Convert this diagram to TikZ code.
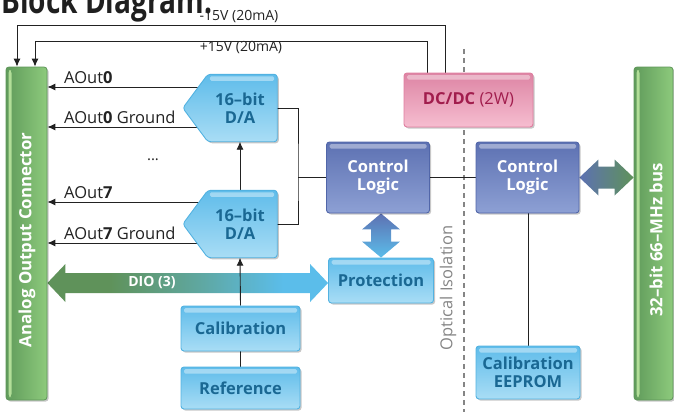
\documentclass[tikz,border=0pt]{standalone}
\usepackage{graphicx}
\usepackage{fontspec}
\setmainfont{Open Sans}
\usetikzlibrary{arrows.meta,calc,backgrounds,shadows}
\definecolor{lbTop}{HTML}{5FBCEA}
\definecolor{lbBot}{HTML}{A9DDF5}
\definecolor{lbBorder}{HTML}{52B2E1}
\definecolor{lbText}{HTML}{1A6893}
\definecolor{blTop}{HTML}{5D71B2}
\definecolor{blBot}{HTML}{8DA0D4}
\definecolor{blBorder}{HTML}{5166A9}
\definecolor{pkTop}{HTML}{DD85A4}
\definecolor{pkBot}{HTML}{F6BDD0}
\definecolor{pkBorder}{HTML}{E07EA0}
\definecolor{pkText}{HTML}{A11D4D}
\definecolor{grDark}{HTML}{609B5B}
\definecolor{grLight}{HTML}{8DCA7C}
\definecolor{grBorder}{HTML}{5E9659}
\definecolor{grHL}{HTML}{B2DE98}
\definecolor{dioGreen}{HTML}{5F925A}
\definecolor{dioMid}{HTML}{5FA7A0}
\definecolor{arBlue}{HTML}{5BBDEA}
\definecolor{lineCol}{HTML}{222222}
\definecolor{isoGray}{HTML}{858585}
\pgfdeclarehorizontalshading{dioshade}{100bp}{color(0bp)=(dioGreen); color(36bp)=(dioGreen); color(52bp)=(dioMid); color(67bp)=(arBlue); color(100bp)=(arBlue)}
\newcommand\HFat[6]{\path[#6] (#1) -- ++(#3,-#4) -- ++(0,#4-#5) -- ($(#2)+(-#3,-#5)$) -- ++(0,#5-#4) -- (#2) -- ++(-#3,#4) -- ++(0,#5-#4) -- ($(#1)+(#3,#5)$) -- ++(0,#4-#5) -- cycle;}
\newcommand\VFat[6]{\path[#6] (#1) -- ++(#4,#3) -- ++(#5-#4,0) -- ($(#2)+(#5,-#3)$) -- ++(#4-#5,0) -- (#2) -- ++(-#4,-#3) -- ++(#4-#5,0) -- ($(#1)+(-#5,#3)$) -- ++(#5-#4,0) -- cycle;}
\newcommand\DApent[1]{%
  \fill[black,opacity=0.22,rounded corners=3pt,transform canvas={xshift=1.6pt,yshift=-1.6pt}] ($(#1.west)+(-20,0)$) -- ($(#1.north west)+(5,0)$) -- (#1.north east) -- (#1.south east) -- ($(#1.south west)+(5,0)$) -- cycle;
  \path[draw=lbBorder,line width=0.9pt,top color=lbTop,bottom color=lbBot,rounded corners=3pt] ($(#1.west)+(-20,0)$) -- ($(#1.north west)+(5,0)$) -- (#1.north east) -- (#1.south east) -- ($(#1.south west)+(5,0)$) -- cycle;
  \fill[white,opacity=0.4,rounded corners=1.5pt] ($(#1.north west)+(7,2)$) rectangle ($(#1.north east)+(-3,6.5)$);}
\begin{document}
\begin{tikzpicture}[x=1pt,y=-1pt,
  arr/.style={draw=lineCol, line width=0.9pt, -{Latex[length=8pt,width=7pt]}},
  ln/.style={draw=lineCol, line width=0.9pt},
  shd/.style={drop shadow={shadow xshift=1.6pt, shadow yshift=-1.6pt, fill=black, opacity=0.22}},
  hl/.style={path picture={\fill[white,opacity=0.4,rounded corners=1.5pt] ($(path picture bounding box.north west)+(3,2)$) rectangle ($(path picture bounding box.north east)+(-3,6.5)$);}},
  boxtext/.style={font=\bfseries\fontsize{16.5}{18}\selectfont, align=center, inner sep=0pt},
  lbox/.style={rectangle, rounded corners=3pt, draw=lbBorder, line width=0.9pt, top color=lbTop, bottom color=lbBot, text=lbText, boxtext, shd, hl},
  bbox/.style={rectangle, rounded corners=3pt, draw=blBorder, line width=0.9pt, top color=blTop, bottom color=blBot, text=white, boxtext, shd, hl},
  pbox/.style={rectangle, rounded corners=3pt, draw=pkBorder, line width=0.9pt, top color=pkTop, bottom color=pkBot, text=pkText, boxtext, shd, hl},
  datext/.style={boxtext, text=lbText, minimum width=74pt, minimum height=67pt},
  gbar/.style={rectangle, rounded corners=3pt, draw=grBorder, line width=0.8pt, left color=grDark, right color=grLight, shd,
    path picture={\fill[grHL] ($(path picture bounding box.north west)+(2.5,3)$) rectangle ($(path picture bounding box.south west)+(5.5,-3)$);}},
  bartext/.style={rotate=90, text=white, font=\bfseries\fontsize{16.8}{16}\selectfont, inner sep=0pt},
  lbl/.style={font=\fontsize{16.5}{17}\selectfont, text=lineCol, inner sep=0pt, anchor=base west},
  small/.style={font=\fontsize{14}{15}\selectfont, text=lineCol, inner sep=0pt}
]
\useasboundingbox (0,0) rectangle (674,412);

% title (cut at top)
\node[anchor=base west, inner sep=0pt, text=black!88] (title) at (1,14) {\scalebox{0.78}[1]{\fontsize{36}{36}\selectfont\bfseries Block Diagram.}};

% bars
\node[gbar, minimum width=41pt, minimum height=333pt] (conn) at (26.5,233.5) {};
\node[bartext] (connt) at (27,240) {Analog Output Connector};
\node[gbar, minimum width=39pt, minimum height=333pt] (bus) at (653.5,233.5) {};
\node[bartext] (bust) at (656,240) {32–bit 66–MHz bus};

% boxes
\node[pbox, minimum width=129pt, minimum height=54pt] (dcdc) at (468.5,100) {DC/DC {\mdseries(2W)}};
\node[bbox, minimum width=103pt, minimum height=71pt] (cl1) at (378,177.5) {Control\\Logic};
\node[bbox, minimum width=103pt, minimum height=71pt] (cl2) at (527.5,177.5) {Control\\Logic};
\node[lbox, minimum width=105pt, minimum height=45pt] (prot) at (381,280.5) {Protection};
\node[lbox, minimum width=104pt, minimum height=53pt] (eeprom) at (528,372.5) {Calibration\\EEPROM};
\node[lbox, minimum width=119pt, minimum height=45pt] (cal) at (240.5,328.5) {Calibration};
\node[lbox, minimum width=119pt, minimum height=42pt] (ref) at (240.5,388) {Reference};
\node[datext] (da0) at (240,108) {16–bit\\D/A};
\node[datext] (da7) at (240,224) {16–bit\\D/A};

% labels
\node[lbl] (l0) at (64,83) {AOut\textbf{0}};
\node[lbl] (l0g) at (64,123.5) {AOut\textbf{0} Ground};
\node[lbl] (l7) at (64,198) {AOut\textbf{7}};
\node[lbl] (l7g) at (64,239) {AOut\textbf{7} Ground};
\node[font=\fontsize{15}{15}\selectfont, text=lineCol, inner sep=0pt] (dots) at (153,160) {...};
\node[small] (m15l) at (239,16.5) {-15V (20mA)};
\node[small] (p15l) at (241,48) {+15V (20mA)};
\node[rotate=90, text=isoGray, font=\fontsize{16.5}{16}\selectfont, inner sep=0pt] (isol) at (448,288) {Optical Isolation};
\node[text=white, font=\bfseries\fontsize{14}{14}\selectfont, inner sep=0pt] (diol) at (152,283) {DIO (3)};

% coordinates
\coordinate (n15) at (445,25);
\coordinate (n15c) at (17,25);
\coordinate (p15) at (427,41);
\coordinate (p15c) at (35,41);
\coordinate (bx) at (298,178);
\coordinate (y0) at (0,87);
\coordinate (y0g) at (0,127);
\coordinate (y7) at (0,202);
\coordinate (y7g) at (0,243);
\coordinate (dioY) at (0,283);
\coordinate (isoT) at (464,49);
\coordinate (isoB) at (464,412);

\begin{scope}[on background layer]
  % fat arrows
  \HFat{conn.east |- dioY}{prot.west |- dioY}{18}{19}{10}{shading=dioshade}
  \HFat{cl2.east}{bus.west |- cl2.east}{19}{18}{11}{left color=blTop, right color=dioGreen}
  \VFat{prot.north |- cl1.south}{prot.north}{16}{19}{10}{top color=blTop, bottom color=arBlue}
  % isolation line
  \draw[isoGray, line width=1.3pt, dash pattern=on 5pt off 4pt] (isoT) -- (isoB);
  % thin connectors
  \draw[arr] (n15 |- dcdc.north) -- (n15) -- (n15c) -- (n15c |- conn.north);
  \draw[arr] (p15 |- dcdc.north) -- (p15) -- (p15c) -- (p15c |- conn.north);
  \draw[arr] (da0.center |- y0) -- (conn.east |- y0);
  \draw[arr] (da0.center |- y0g) -- (conn.east |- y0g);
  \draw[arr] (da7.center |- y7) -- (conn.east |- y7);
  \draw[arr] (da7.center |- y7g) -- (conn.east |- y7g);
  \draw[ln] (da0.east) -| (bx) |- (da7.east);
  \draw[ln] (cl1.west) -- (bx |- cl1.west);
  \draw[ln] (cl1.east) -- (cl2.west);
  \draw[ln] (cl2.south -| eeprom.north) -- (eeprom.north);
  \draw[arr] (da7.north) -- (da0.south);
  \draw[arr] (cal.north) -- (da7.south);
  \draw[ln] (cal.south) -- (ref.north);
  % D/A pentagons
  \DApent{da0}
  \DApent{da7}
\end{scope}
\end{tikzpicture}
\end{document}
